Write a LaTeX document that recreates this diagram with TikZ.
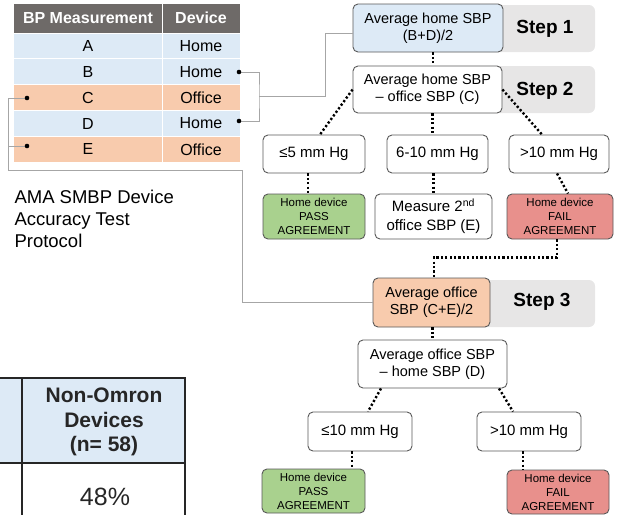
\documentclass[tikz,border=0pt]{standalone}
\usepackage{fontspec}
\setmainfont{Liberation Sans}
\usetikzlibrary{positioning}

\definecolor{hdrgray}{HTML}{6E6A68}
\definecolor{rowblue}{HTML}{DDEAF6}
\definecolor{roworange}{HTML}{F8CBAD}
\definecolor{passgreen}{HTML}{A9D18E}
\definecolor{failred}{HTML}{E8908C}
\definecolor{stepgray}{HTML}{E7E6E6}
\definecolor{linkgray}{HTML}{A6A6A6}
\definecolor{boxedge}{HTML}{595959}

\tikzset{
  flowbox/.style={draw=boxedge, line width=0.9pt, rounded corners=5pt, fill=white,
    align=center, inner sep=0pt, font=\fontsize{14.5}{17}\selectfont},
  rangebox/.style={flowbox, font=\fontsize{15}{17}\selectfont},
  verdict/.style={flowbox, font=\fontsize{11.5}{14}\selectfont},
  steptab/.style={fill=stepgray, rounded corners=6pt},
  steplabel/.style={font=\bfseries\fontsize{19}{22}\selectfont},
  dotlink/.style={line width=2.4pt, dash pattern=on 2.2pt off 2.2pt},
  link/.style={draw=linkgray, line width=0.9pt},
  cell/.style={font=\fontsize{16}{18}\selectfont}
}

\begin{document}
\begin{tikzpicture}[x=1pt,y=-1pt]
\useasboundingbox (0,0) rectangle (621,515);

% measurement table
\fill[hdrgray] (14,4) rectangle (161.5,32.5);
\fill[hdrgray] (162.5,4) rectangle (240,32.5);
\node[cell, text=white, font=\bfseries\fontsize{16}{18}\selectfont] (hdrM) at (88,18) {BP Measurement};
\node[cell, text=white, font=\bfseries\fontsize{16}{18}\selectfont] (hdrD) at (201,18) {Device};
\foreach \lbl/\dev/\col [count=\i, evaluate=\i as \yt using 33.5+(\i-1)*25.8] in
  {A/Home/rowblue, B/Home/rowblue, C/Office/roworange, D/Home/rowblue, E/Office/roworange}{
  \fill[\col] (14,\yt) rectangle (161.5,\yt+24.8);
  \fill[\col] (162.5,\yt) rectangle (240,\yt+24.8);
  \node[cell] (m\lbl) at (88,\yt+12.6) {\lbl};
  \node[cell] (dev\lbl) at (201,\yt+12.6) {\dev};
}

\node[anchor=west, align=left, font=\fontsize{18.5}{22}\selectfont] (title) at (11,219)
  {AMA SMBP Device\\Accuracy Test\\Protocol};

% step tabs
\fill[steptab] (428,5) rectangle (595,52);
\fill[steptab] (428,66) rectangle (595,113);
\fill[steptab] (431,280) rectangle (595,327);
\node[steplabel] (step1) at (545,29) {Step 1};
\node[steplabel] (step2) at (545,91) {Step 2};
\node[steplabel] (step3) at (542,302) {Step 3};

% flow boxes
\node[flowbox, fill=rowblue, minimum width=150, minimum height=48] (s1) at (428,28) {Average home SBP\\(B+D)/2};
\node[flowbox, minimum width=149, minimum height=47] (s2) at (427.5,89.5) {Average home SBP\\– office SBP (C)};
\node[rangebox, minimum width=102, minimum height=38] (le5) at (314,154) {≤5 mm Hg};
\node[rangebox, minimum width=101, minimum height=38] (mid610) at (437.5,154) {6-10 mm Hg};
\node[rangebox, minimum width=100, minimum height=38] (gt10) at (559,154) {>10 mm Hg};
\node[verdict, fill=passgreen, minimum width=102, minimum height=45] (pass1) at (314,216.5) {Home device\\PASS\\AGREEMENT};
\node[flowbox, font=\fontsize{15}{19}\selectfont, minimum width=117, minimum height=45] (measure) at (433.5,216.5) {Measure 2\textsuperscript{nd}\\office SBP (E)};
\node[verdict, fill=failred, minimum width=106, minimum height=45] (fail1) at (560,216.5) {Home device\\FAIL\\AGREEMENT};
\node[flowbox, fill=roworange, minimum width=117, minimum height=49] (s3) at (431.5,302.5) {Average office\\SBP (C+E)/2};
\node[flowbox, minimum width=149, minimum height=48] (s4) at (432.5,364) {Average office SBP\\– home SBP (D)};
\node[rangebox, minimum width=104, minimum height=39] (le10) at (360,431.5) {≤10 mm Hg};
\node[rangebox, minimum width=104, minimum height=39] (gt10b) at (529,431.5) {>10 mm Hg};
\node[verdict, fill=passgreen, minimum width=103, minimum height=44] (pass2) at (313.5,491) {Home device\\PASS\\AGREEMENT};
\node[verdict, fill=failred, minimum width=102, minimum height=44] (fail2) at (558,492) {Home device\\FAIL\\AGREEMENT};

% dotted flow
\draw[dotlink] ([xshift=5pt]s1.south) -- ([xshift=5pt]s1.south |- s2.north);
\draw[dotlink] (s2.west) -- ([xshift=6pt]le5.north);
\draw[dotlink] ([xshift=5pt]s2.south) -- ([xshift=5pt]s2.south |- mid610.north);
\draw[dotlink] (s2.east) -- ([xshift=-17pt]gt10.north);
\draw[dotlink] ([xshift=-6pt]le5.south) -- ([xshift=-6pt]pass1.north);
\draw[dotlink] (mid610.south -| measure.north) -- (measure.north);
\draw[dotlink] ([xshift=-2pt]gt10.south) -- ([xshift=8pt]fail1.north);
\draw[dotlink] ([xshift=-3pt]fail1.south) -- ++(0,18) -| ([xshift=2.5pt]s3.north);
\draw[dotlink] ([xshift=1pt]s3.south) -- ([xshift=1pt]s3.south |- s4.north);
\draw[dotlink] ([xshift=-51.5pt]s4.south) -- ([xshift=8pt]le10.north);
\draw[dotlink] ([xshift=66.5pt]s4.south) -- ([xshift=-16pt]gt10b.north);
\draw[dotlink] ([xshift=-8pt]le10.south) -- ([xshift=-8pt]le10.south |- pass2.north);
\draw[dotlink] ([xshift=-6pt]gt10b.south) -- ([xshift=-6pt]gt10b.south |- fail2.north);

% gray connectors from the table
\coordinate (dotB) at (239,72);
\coordinate (dotD) at (239,121);
\coordinate (dotC) at (27,98);
\coordinate (dotE) at (27,146);
\coordinate (bdj) at (259,96);
\draw[link] (dotB) -| (bdj) |- (dotD);
\draw[link] (bdj) -- (325,96) |- ([yshift=-5pt]s1.west);
\draw[link] (dotC) -- (8,98) |- (dotE);
\draw[link] (8,146) -- (8,170) -- (242,170) |- (s3.west);
\foreach \d in {dotB,dotD,dotC,dotE}
  \fill (\d) circle (2.3pt);

% results table (cut)
\fill[rowblue] (0,378) rectangle (185,463);
\draw[line width=1.5pt, black!85] (0,378) -- (186,378);
\draw[line width=1.5pt, black!85] (0,463) -- (186,463);
\draw[line width=1.5pt, black!85] (22,378) -- (22,515);
\draw[line width=1.5pt, black!85] (185,378) -- (185,515);
\node[align=center, font=\bfseries\fontsize{21}{24.5}\selectfont, text=black!85] (nonomron) at (104,422) {Non-Omron\\Devices\\(n= 58)};
\node[font=\fontsize{25}{28}\selectfont, text=black!85] (pct) at (105,497) {48\%};
\end{tikzpicture}
\end{document}
